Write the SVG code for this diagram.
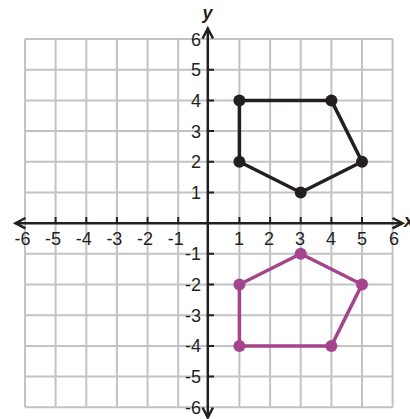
<svg xmlns="http://www.w3.org/2000/svg" width="410" height="419" viewBox="0 0 410 419">
<defs>
<style>
.grid{stroke:#c2c3c5;stroke-width:2;fill:none}
.axis{stroke:#231f20;stroke-width:2.5;fill:none}
.tick{stroke:#231f20;stroke-width:2}
.arr{stroke:#231f20;stroke-width:2.5;fill:none;stroke-linejoin:miter}
.lbl{font-family:"Liberation Sans",Arial,sans-serif;font-size:18px;fill:#231f20}
.xl{text-anchor:middle}
.xn{text-anchor:end}
.yl{text-anchor:end}
.ax{font-family:"Liberation Sans",Arial,sans-serif;font-size:18px;font-style:italic;font-weight:bold;fill:#231f20}
.blk{stroke:#231f20;stroke-width:3.5;fill:none;stroke-linejoin:round}
.pur{stroke:#a4448d;stroke-width:3.5;fill:none;stroke-linejoin:round}
.bd{fill:#231f20}
.pd{fill:#a4448d}
</style>
</defs>
<rect width="410" height="419" fill="#ffffff"/>
<g id="grid" class="grid">
<path d="M25 39V407.3M55.6 39V407.3M86.3 39V407.3M116.9 39V407.3M147.6 39V407.3M178.2 39V407.3M239.4 39V407.3M270.1 39V407.3M300.7 39V407.3M331.4 39V407.3M362 39V407.3M392.6 39V407.3"/>
<path d="M25 39H392.6M25 69.7H392.6M25 100.4H392.6M25 131.1H392.6M25 161.8H392.6M25 192.5H392.6M25 253.8H392.6M25 284.5H392.6M25 315.2H392.6M25 345.9H392.6M25 376.6H392.6M25 407.3H392.6"/>
</g>
<g id="axes">
<path class="axis" d="M15.5 223.2H402.5M207.8 28.5V417.5"/>
<path class="arr" d="M25.5 218L15.5 223.2L25.5 228.4M392.5 218L402.5 223.2L392.5 228.4M202.6 38.5L207.8 28.5L213 38.5M202.6 407.5L207.8 417.5L213 407.5"/>
<path class="tick" d="M55.6 217V223.2M86.3 217V223.2M116.9 217V223.2M147.6 217V223.2M178.2 217V223.2M239.4 217V223.2M270.1 217V223.2M300.7 217V223.2M331.4 217V223.2M362 217V223.2M207.8 69.7H214M207.8 100.4H214M207.8 131.1H214M207.8 161.8H214M207.8 192.5H214M207.8 253.8H214M207.8 284.5H214M207.8 315.2H214M207.8 345.9H214M207.8 376.6H214"/>
<text class="ax" x="207.5" y="18.5" text-anchor="middle">y</text>
<text class="ax" x="404" y="227">x</text>
</g>
<g id="x-labels" class="lbl">
<text class="xn" x="30.5" y="244.5">-6</text>
<text class="xn" x="61.1" y="244.5">-5</text>
<text class="xn" x="91.8" y="244.5">-4</text>
<text class="xn" x="122.4" y="244.5">-3</text>
<text class="xn" x="153.1" y="244.5">-2</text>
<text class="xn" x="183.7" y="244.5">-1</text>
<text class="xl" x="239" y="244.5">1</text>
<text class="xl" x="269" y="244.5">2</text>
<text class="xl" x="300" y="244.5">3</text>
<text class="xl" x="331" y="244.5">4</text>
<text class="xl" x="362" y="244.5">5</text>
<text class="xl" x="394" y="244.5">6</text>
</g>
<g id="y-labels" class="lbl">
<text class="yl" x="201" y="46">6</text>
<text class="yl" x="201" y="76.2">5</text>
<text class="yl" x="201" y="106.9">4</text>
<text class="yl" x="201" y="137.6">3</text>
<text class="yl" x="201" y="168.3">2</text>
<text class="yl" x="201" y="199">1</text>
<text class="yl" x="201" y="260.3">-1</text>
<text class="yl" x="201" y="291">-2</text>
<text class="yl" x="201" y="321.7">-3</text>
<text class="yl" x="201" y="352.4">-4</text>
<text class="yl" x="201" y="383.1">-5</text>
<text class="yl" x="201" y="414">-6</text>
</g>
<g id="pentagon-black">
<polygon class="blk" points="239.4,100.4 331.4,100.4 362,161.8 300.7,192.5 239.4,161.8"/>
<circle class="bd" cx="239.4" cy="100.4" r="6"/>
<circle class="bd" cx="331.4" cy="100.4" r="6"/>
<circle class="bd" cx="362" cy="161.8" r="6"/>
<circle class="bd" cx="300.7" cy="192.5" r="6"/>
<circle class="bd" cx="239.4" cy="161.8" r="6"/>
</g>
<g id="pentagon-purple">
<polygon class="pur" points="239.4,284.5 300.7,253.8 362,284.5 331.4,345.9 239.4,345.9"/>
<circle class="pd" cx="239.4" cy="284.5" r="6"/>
<circle class="pd" cx="300.7" cy="253.8" r="6"/>
<circle class="pd" cx="362" cy="284.5" r="6"/>
<circle class="pd" cx="331.4" cy="345.9" r="6"/>
<circle class="pd" cx="239.4" cy="345.9" r="6"/>
</g>
</svg>
